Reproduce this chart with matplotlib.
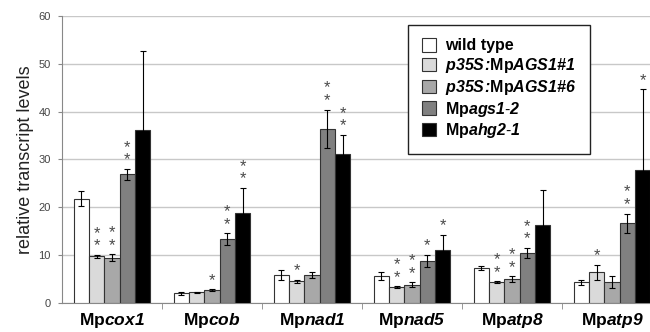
import matplotlib
matplotlib.use("Agg")
import matplotlib.pyplot as plt
import numpy as np

plt.rcParams["font.family"] = ["Liberation Sans", "DejaVu Sans"]
plt.rcParams["mathtext.fontset"] = "custom"
plt.rcParams["mathtext.rm"] = "Liberation Sans"
plt.rcParams["mathtext.bf"] = "Liberation Sans:bold"
plt.rcParams["mathtext.it"] = "Liberation Sans:italic"
plt.rcParams["mathtext.bfit"] = "Liberation Sans:bold:italic"

genes = [r"$\mathbf{Mp}\mathbfit{cox1}$", r"$\mathbf{Mp}\mathbfit{cob}$",
         r"$\mathbf{Mp}\mathbfit{nad1}$", r"$\mathbf{Mp}\mathbfit{nad5}$",
         r"$\mathbf{Mp}\mathbfit{atp8}$", r"$\mathbf{Mp}\mathbfit{atp9}$"]
lines = ["wild type",
         r"$\mathbfit{p35S}\!\mathbfit{:}\!\mathbf{Mp}\mathbfit{AGS1\#1}$",
         r"$\mathbfit{p35S}\!\mathbfit{:}\!\mathbf{Mp}\mathbfit{AGS1\#6}$",
         r"$\mathbf{Mp}\mathbfit{ags1\text{-}2}$",
         r"$\mathbf{Mp}\mathbfit{ahg2\text{-}1}$"]
colors = ["#ffffff", "#dadada", "#a8a8a8", "#808080", "#000000"]

# rows: lines, cols: genes
means = [
    [21.8, 2.0, 5.9, 5.7, 7.3, 4.3],
    [9.8, 2.2, 4.5, 3.3, 4.3, 6.4],
    [9.5, 2.7, 5.9, 3.8, 5.0, 4.4],
    [26.9, 13.4, 36.4, 8.8, 10.5, 16.7],
    [36.2, 18.9, 31.2, 11.1, 16.2, 27.7],
]
errs = [
    [1.6, 0.3, 1.1, 0.8, 0.5, 0.5],
    [0.3, 0.1, 0.4, 0.2, 0.2, 1.6],
    [0.7, 0.2, 0.6, 0.5, 0.6, 1.3],
    [1.1, 1.2, 4.0, 1.3, 1.0, 2.0],
    [16.4, 5.2, 3.9, 3.1, 7.4, 17.0],
]
# number of asterisks above each bar
stars = [
    [0, 0, 0, 0, 0, 0],
    [2, 0, 1, 2, 2, 1],
    [2, 1, 0, 2, 2, 0],
    [2, 2, 2, 1, 2, 2],
    [0, 2, 2, 1, 0, 1],
]

fig = plt.figure(figsize=(6.5, 3.32), dpi=100)
ax = fig.add_axes([0.0954, 0.0873, 0.923, 0.865])

width = 0.153
x = np.arange(len(genes)) + 0.5
for i in range(len(lines)):
    pos = x + (i - 2) * width
    ax.bar(pos, means[i], width, color=colors[i], edgecolor="#333333",
           linewidth=0.8, label=lines[i], zorder=3)
    ax.errorbar(pos, means[i], yerr=errs[i], fmt="none", ecolor="#000000",
                elinewidth=0.8, capsize=2, capthick=0.8, zorder=4)
    for j, n in enumerate(stars[i]):
        if n:
            ax.text(pos[j], means[i][j] + errs[i][j] + 0.3,
                    "\n".join(["*"] * n), ha="center", va="bottom",
                    fontsize=12, linespacing=0.8, color="#4a4a4a", zorder=5)

ax.set_xlim(0, 6)
ax.set_ylim(0, 60)
ax.set_yticks(range(0, 61, 10))
ax.yaxis.grid(True, color="#c8c8c8", linewidth=1.0, zorder=0)
ax.set_axisbelow(True)
ax.tick_params(axis="y", labelsize=8, labelcolor="#444444", length=3,
               color="#888888", pad=5)
ax.set_xticks(x)
ax.set_xticklabels(genes, fontsize=12.5)
ax.set_xticks(np.arange(1, 6), minor=True)
ax.tick_params(axis="x", which="major", length=0, pad=6)
ax.tick_params(axis="x", which="minor", length=4, color="#888888")
for side in ["top", "right"]:
    ax.spines[side].set_visible(False)
for side in ["left", "bottom"]:
    ax.spines[side].set_color("#888888")
ax.set_ylabel("relative transcript levels", fontsize=13, color="#222222",
              labelpad=3)

leg = ax.legend(loc="upper left", bbox_to_anchor=(0.577, 0.969),
                borderaxespad=0, prop={"weight": "bold", "size": 11.5},
                fancybox=False, edgecolor="#222222", framealpha=1,
                handlelength=0.9, handleheight=0.9, handletextpad=0.55,
                labelspacing=0.17, borderpad=0.85)
leg.get_frame().set_linewidth(1.0)

fig.savefig("out.png", dpi=100)
